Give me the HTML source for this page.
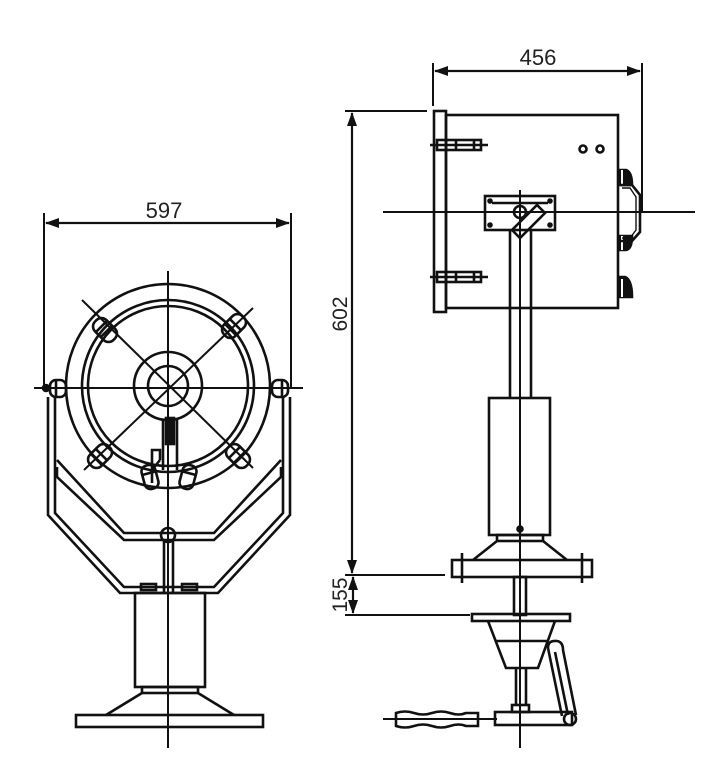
<!DOCTYPE html>
<html><head><style>
html,body{margin:0;padding:0;background:#fff;}
svg{display:block;}
text{font-family:"Liberation Sans",Arial,sans-serif;fill:#222;}
</style></head><body>
<svg width="722" height="779" viewBox="0 0 722 779" xmlns="http://www.w3.org/2000/svg">
<defs>
<marker id="a" markerWidth="14" markerHeight="10" refX="13" refY="5" orient="auto" markerUnits="userSpaceOnUse">
<path d="M0,0 L14,5 L0,10 Z" fill="#111"/></marker>
</defs>
<g stroke="#111" stroke-width="2.6" fill="none">
<!-- ===== LEFT VIEW ===== -->
<line x1="44" y1="213" x2="44" y2="388" stroke-width="2"/>
<line x1="291" y1="213" x2="291" y2="388" stroke-width="2"/>
<line x1="167" y1="223" x2="46" y2="223" marker-end="url(#a)" stroke-width="2.2"/>
<line x1="167" y1="223" x2="289" y2="223" marker-end="url(#a)" stroke-width="2.2"/>
<circle cx="168" cy="386" r="102"/>
<circle cx="168" cy="386" r="86"/>
<circle cx="168" cy="386" r="80"/>
<circle cx="168" cy="386" r="34"/>
<circle cx="168" cy="386" r="20"/>
<line x1="34" y1="388" x2="303" y2="388" stroke-width="2"/>
<line x1="168" y1="271" x2="168" y2="748" stroke-width="2"/>
<line x1="82" y1="300" x2="253" y2="468" stroke-width="2"/>
<line x1="253" y1="308" x2="84" y2="470" stroke-width="2"/>
<g transform="rotate(45 105 330)"><rect x="92" y="322" width="26" height="16" rx="7"/><line x1="100" y1="322" x2="100" y2="338"/><line x1="107" y1="322" x2="107" y2="338"/></g>
<g transform="rotate(-45 234 326)"><rect x="221" y="318" width="26" height="16" rx="7"/><line x1="229" y1="318" x2="229" y2="334"/><line x1="236" y1="318" x2="236" y2="334"/></g>
<g transform="rotate(-45 100 456)"><rect x="87" y="448" width="26" height="16" rx="7"/><line x1="95" y1="448" x2="95" y2="464"/><line x1="102" y1="448" x2="102" y2="464"/></g>
<g transform="rotate(45 238 456)"><rect x="225" y="448" width="26" height="16" rx="7"/><line x1="233" y1="448" x2="233" y2="464"/><line x1="240" y1="448" x2="240" y2="464"/></g>
<g transform="rotate(75 150 477)"><rect x="138" y="470" width="24" height="14" rx="6"/><line x1="146" y1="470" x2="146" y2="484"/></g>
<g transform="rotate(-75 188 477)"><rect x="176" y="470" width="24" height="14" rx="6"/><line x1="192" y1="470" x2="192" y2="484"/></g>
<rect x="166" y="418" width="8" height="26" fill="#111"/>
<line x1="163" y1="420" x2="163" y2="470"/><line x1="177" y1="420" x2="177" y2="470"/>
<path d="M152,483 L152,450 L160,450 L160,460"/>
<line x1="152" y1="470" x2="160" y2="460"/>
<rect x="50" y="380" width="16" height="17" rx="6"/>
<line x1="56" y1="380" x2="56" y2="397"/>
<rect x="272" y="380" width="16" height="17" rx="6"/>
<line x1="282" y1="380" x2="282" y2="397"/>
<circle cx="46" cy="388" r="3" fill="#111"/>
<path d="M48,397 L48,515 L120,593 L218,593 L290,515 L290,397"/>
<path d="M55,397 L55,513 L124,587 L214,587 L283,513 L283,397"/>
<path d="M57,467 L57,477 L124,540 L214,540 L281,477 L281,467"/>
<path d="M57,460 L124,533 L214,533 L281,460"/>
<line x1="164" y1="540" x2="164" y2="593"/><line x1="173" y1="540" x2="173" y2="593"/>
<circle cx="168" cy="535" r="7"/>
<rect x="141" y="584" width="15" height="6"/><rect x="182" y="584" width="15" height="6"/>
<rect x="135" y="593" width="70" height="94"/>
<rect x="142" y="687" width="56" height="6"/>
<path d="M142,693 L106,715 M198,693 L234,715"/>
<rect x="76" y="715" width="187" height="12"/>

<!-- ===== RIGHT VIEW ===== -->
<line x1="433" y1="63" x2="433" y2="106" stroke-width="2"/>
<line x1="642" y1="63" x2="642" y2="212" stroke-width="2"/>
<line x1="537" y1="71" x2="435" y2="71" marker-end="url(#a)" stroke-width="2.2"/>
<line x1="537" y1="71" x2="640" y2="71" marker-end="url(#a)" stroke-width="2.2"/>
<line x1="345" y1="111" x2="427" y2="111" stroke-width="2"/>
<line x1="345" y1="575" x2="445" y2="575" stroke-width="2"/>
<line x1="345" y1="615" x2="470" y2="615" stroke-width="2"/>
<line x1="352" y1="343" x2="352" y2="113" marker-end="url(#a)" stroke-width="2.2"/>
<line x1="352" y1="343" x2="352" y2="573" marker-end="url(#a)" stroke-width="2.2"/>
<line x1="353" y1="595" x2="353" y2="577" marker-end="url(#a)" stroke-width="2.2"/>
<line x1="353" y1="595" x2="353" y2="613" marker-end="url(#a)" stroke-width="2.2"/>
<rect x="434" y="111" width="12" height="201"/>
<rect x="446" y="115" width="172" height="193"/>
<g><line x1="430" y1="145" x2="488" y2="145"/><rect x="437" y="140" width="44" height="10"/><line x1="446" y1="140" x2="446" y2="150"/><line x1="456" y1="140" x2="456" y2="150"/><line x1="474" y1="140" x2="474" y2="150"/></g>
<g><line x1="430" y1="277" x2="488" y2="277"/><rect x="437" y="272" width="44" height="10"/><line x1="446" y1="272" x2="446" y2="282"/><line x1="456" y1="272" x2="456" y2="282"/><line x1="474" y1="272" x2="474" y2="282"/></g>
<circle cx="583" cy="149" r="3.5"/><circle cx="600" cy="149" r="3.5"/>
<path d="M619,170 L626,170 Q632,172 632,185 L619,185 Z" fill="#111"/>
<path d="M619,236 L632,236 Q632,249 626,250 L619,250 Z" fill="#111"/>
<path d="M619,277 L625,277 Q632,280 632,297 L619,297 Z" fill="#111"/>
<line x1="622" y1="170" x2="622" y2="185" stroke="#fff" stroke-width="2"/>
<line x1="622" y1="236" x2="622" y2="250" stroke="#fff" stroke-width="2"/>
<line x1="622" y1="279" x2="622" y2="297" stroke="#fff" stroke-width="2"/>
<path d="M620,185 L632,185 L640,195 L640,232 L632,241 L620,241"/>
<path d="M622,188 L630,188 L636,197 L636,230 L630,238 L622,238" stroke-width="1.4"/>
<line x1="383" y1="212" x2="695" y2="212" stroke-width="2"/>
<line x1="520" y1="190" x2="520" y2="748" stroke-width="2"/>
<rect x="485" y="196" width="70" height="34"/>
<line x1="492" y1="203" x2="548" y2="203"/>
<circle cx="490" cy="201" r="1.5" fill="#111"/><circle cx="550" cy="201" r="1.5" fill="#111"/>
<circle cx="490" cy="225" r="1.5" fill="#111"/><circle cx="550" cy="225" r="1.5" fill="#111"/>
<circle cx="520" cy="212" r="6"/>
<path d="M512,230 L520,238 L545,213 L537,205 Z"/>
<line x1="510" y1="230" x2="510" y2="398"/><line x1="531" y1="230" x2="531" y2="398"/>
<rect x="489" y="398" width="61" height="137"/>
<circle cx="520" cy="529" r="2.5" fill="#111"/>
<rect x="497" y="535" width="46" height="6"/>
<path d="M497,541 L473,560 M543,541 L567,560"/>
<rect x="452" y="560" width="140" height="17"/>
<line x1="462" y1="553" x2="462" y2="583"/><line x1="582" y1="553" x2="582" y2="583"/>
<rect x="514" y="577" width="12" height="38"/>
<rect x="472" y="614" width="98" height="7"/>
<path d="M488,621 L506,668 L538,668 L555,621"/>
<line x1="496" y1="641" x2="547" y2="641"/>
<line x1="516" y1="668" x2="516" y2="705"/><line x1="526" y1="668" x2="526" y2="705"/>
<rect x="512" y="705" width="17" height="7"/>
<rect x="495" y="712" width="77" height="13"/>
<circle cx="570" cy="719" r="6"/>
<path d="M548,648 Q548,640 557,641 Q563,642 563,650 L576,715 M548,648 L562,716"/>
<line x1="555" y1="652" x2="568" y2="715"/>
<line x1="383" y1="719" x2="497" y2="719" stroke-width="2"/>
<path d="M396,713 Q405,710 414,713 Q423,716 432,713 Q441,710 450,713 Q459,716 466,713 L478,713 L478,726 L466,726 Q459,723 450,726 Q441,729 432,726 Q423,723 414,726 Q405,729 396,726 Z"/>
</g>
<text x="164" y="218" font-size="22" text-anchor="middle">597</text>
<text x="538" y="65" font-size="22" text-anchor="middle">456</text>
<text x="0" y="0" font-size="21" text-anchor="middle" transform="translate(347,314) rotate(-90)">602</text>
<text x="0" y="0" font-size="21" text-anchor="middle" transform="translate(347,595) rotate(-90)">155</text>
</svg>
</body></html>
